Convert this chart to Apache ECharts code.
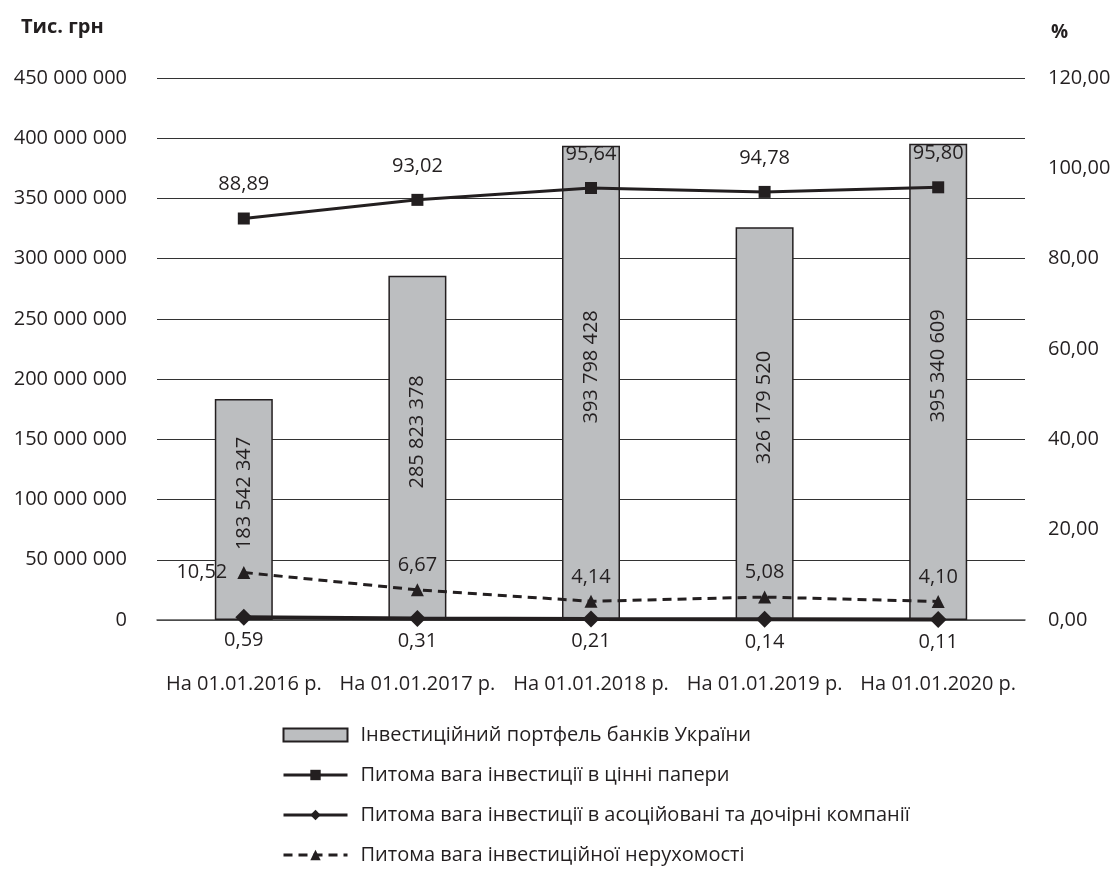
<!DOCTYPE html>
<html>
<head>
<meta charset="utf-8">
<title>Інвестиційний портфель банків України</title>
<script src="https://cdn.jsdelivr.net/npm/echarts@6/dist/echarts.min.js"></script>
<style>
  html, body { margin: 0; padding: 0; background: #fff; }
  #main { width: 1114px; height: 870px; }
</style>
</head>
<body>
<div id="main"></div>
<script>
// дані
var categories = ['На 01.01.2016 р.', 'На 01.01.2017 р.', 'На 01.01.2018 р.', 'На 01.01.2019 р.', 'На 01.01.2020 р.'];
var portfolio = [183542347, 285823378, 393798428, 326179520, 395340609];   // тис. грн
var securities = [88.89, 93.02, 95.64, 94.78, 95.80];                      // %
var associates = [0.59, 0.31, 0.21, 0.14, 0.11];                           // %
var realEstate = [10.52, 6.67, 4.14, 5.08, 4.10];                          // %

var FONT = 'Open Sans';
var INK = '#231f20';

function spaced(v) {
  return String(v).replace(/\B(?=(\d{3})+(?!\d))/g, ' ');
}
function comma(v) {
  return Number(v).toFixed(2).replace('.', ',');
}

var myChart = echarts.init(document.getElementById('main'));

// перша точка нерухомості — підпис зліва
var realEstateData = realEstate.map(function (v, i) {
  if (i === 0) {
    return { value: v, label: { position: 'left', distance: 10 } };
  }
  return v;
});

var option = {
  animation: false,
  textStyle: { fontFamily: FONT, color: INK },
  title: [
    { text: 'Тис. грн', left: 16, top: 12,
      textStyle: { fontFamily: FONT, fontSize: 20, fontWeight: 'bold', color: INK } },
    { text: '%', left: 1046, top: 18,
      textStyle: { fontFamily: FONT, fontSize: 19, fontWeight: 'bold', color: INK } }
  ],
  grid: { left: 157, right: 89, top: 78, bottom: 250 },
  legend: {
    orient: 'vertical',
    left: 282,
    top: 725,
    padding: 0,
    itemWidth: 64,
    itemHeight: 13,
    itemGap: 20,
    lineStyle: { width: 3 },
    textStyle: { fontFamily: FONT, fontSize: 20, lineHeight: 20, color: INK, padding: [0, 0, 0, 8] },
    data: [
      { name: 'Інвестиційний портфель банків України', icon: 'rect' },
      'Питома вага інвестиції в цінні папери',
      'Питома вага інвестиції в асоційовані та дочірні компанії',
      'Питома вага інвестиційної нерухомості'
    ]
  },
  xAxis: {
    type: 'category',
    data: categories,
    axisTick: { show: false },
    axisLine: { lineStyle: { color: '#555', width: 1.5 } },
    axisLabel: { interval: 0, fontFamily: FONT, fontSize: 20, color: INK, margin: 54 }
  },
  yAxis: [
    {
      type: 'value',
      min: 0,
      max: 450000000,
      interval: 50000000,
      axisLine: { show: false },
      axisTick: { show: false },
      axisLabel: { fontFamily: FONT, fontSize: 20, color: INK, margin: 30, formatter: spaced },
      splitLine: { lineStyle: { color: '#333', width: 1.2 } }
    },
    {
      type: 'value',
      min: 0,
      max: 120,
      interval: 20,
      axisLine: { show: false },
      axisTick: { show: false },
      splitLine: { show: false },
      axisLabel: { fontFamily: FONT, fontSize: 20, color: INK, margin: 23, formatter: comma }
    }
  ],
  series: [
    {
      name: 'Інвестиційний портфель банків України',
      type: 'bar',
      yAxisIndex: 0,
      barWidth: 58,
      itemStyle: { color: '#bcbec0', borderColor: INK, borderWidth: 1.5 },
      label: {
        show: true,
        position: 'inside',
        rotate: 90,
        offset: [16, 0],
        fontFamily: FONT,
        fontSize: 20,
        color: INK,
        formatter: function (p) { return spaced(p.value); }
      },
      z: 1,
      data: portfolio
    },
    {
      name: 'Питома вага інвестиції в цінні папери',
      type: 'line',
      yAxisIndex: 1,
      symbol: 'rect',
      symbolSize: 12,
      lineStyle: { color: INK, width: 3 },
      itemStyle: { color: INK },
      label: {
        show: true, position: 'top', distance: 18,
        fontFamily: FONT, fontSize: 20, color: INK, formatter: function (p) { return comma(p.value); }
      },
      z: 3,
      data: securities
    },
    {
      name: 'Питома вага інвестиції в асоційовані та дочірні компанії',
      type: 'line',
      yAxisIndex: 1,
      symbol: 'diamond',
      symbolSize: 17,
      lineStyle: { color: INK, width: 4 },
      itemStyle: { color: INK },
      label: {
        show: true, position: 'bottom', distance: 4,
        fontFamily: FONT, fontSize: 20, color: INK, formatter: function (p) { return comma(p.value); }
      },
      z: 3,
      data: associates
    },
    {
      name: 'Питома вага інвестиційної нерухомості',
      type: 'line',
      yAxisIndex: 1,
      symbol: 'triangle',
      symbolSize: 13,
      lineStyle: { color: INK, width: 3, type: [9, 6] },
      itemStyle: { color: INK },
      label: {
        show: true, position: 'top', distance: 8,
        fontFamily: FONT, fontSize: 20, color: INK, formatter: function (p) { return comma(p.value); }
      },
      z: 3,
      data: realEstateData
    }
  ]
};

myChart.setOption(option);
</script>
</body>
</html>
